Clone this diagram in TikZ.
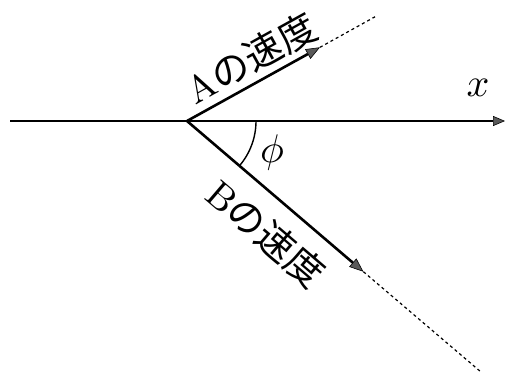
\documentclass[tikz,border=0pt]{standalone}
\usepackage{fontspec}
\newfontfamily\jpfont{Noto Sans CJK JP}
\usetikzlibrary{arrows.meta}
\begin{document}
\begin{tikzpicture}[x=1pt,y=1pt,
  axisline/.style={line width=1.3pt,-{Triangle[length=12pt,width=10pt,fill=black!65,line width=0.6pt]}},
  vecline/.style={line width=2.6pt,-{Triangle[length=14pt,width=11pt,fill=black!65,line width=0.6pt]}},
  extline/.style={line width=1.2pt,dash pattern=on 3pt off 3pt},
  anglearc/.style={line width=1.4pt},
  lbl/.style={inner sep=0pt,scale=3.8},
  mathlbl/.style={inner sep=0pt,scale=4}
]
\useasboundingbox (0,-374) rectangle (507,0);
\coordinate (O) at (187,-121);
\coordinate (L) at (10,-121);
\coordinate (R) at (505,-121);
\coordinate (Atip) at (320,-47.3);
\coordinate (Aend) at (376.8,-15.8);
\coordinate (Btip) at (363.4,-271.7);
\coordinate (Bend) at (479.8,-371);

\draw[axisline] (L) -- (R);
\draw[extline] (Atip) -- (Aend);
\draw[extline] (Btip) -- (Bend);
\draw[vecline] (O) -- (Atip);
\draw[vecline] (O) -- (Btip);
\draw[anglearc] (O) ++(69,0) arc[start angle=0,end angle=-40.5,radius=69];

\node[lbl,rotate=29] (la) at (251,-58) {A{\jpfont の速度}};
\node[lbl,rotate=-40.5] (lb) at (266,-233) {B{\jpfont の速度}};
\node[mathlbl] (phi) at (272,-153) {$\phi$};
\node[mathlbl] (xl) at (478,-88) {$x$};
\end{tikzpicture}
\end{document}
